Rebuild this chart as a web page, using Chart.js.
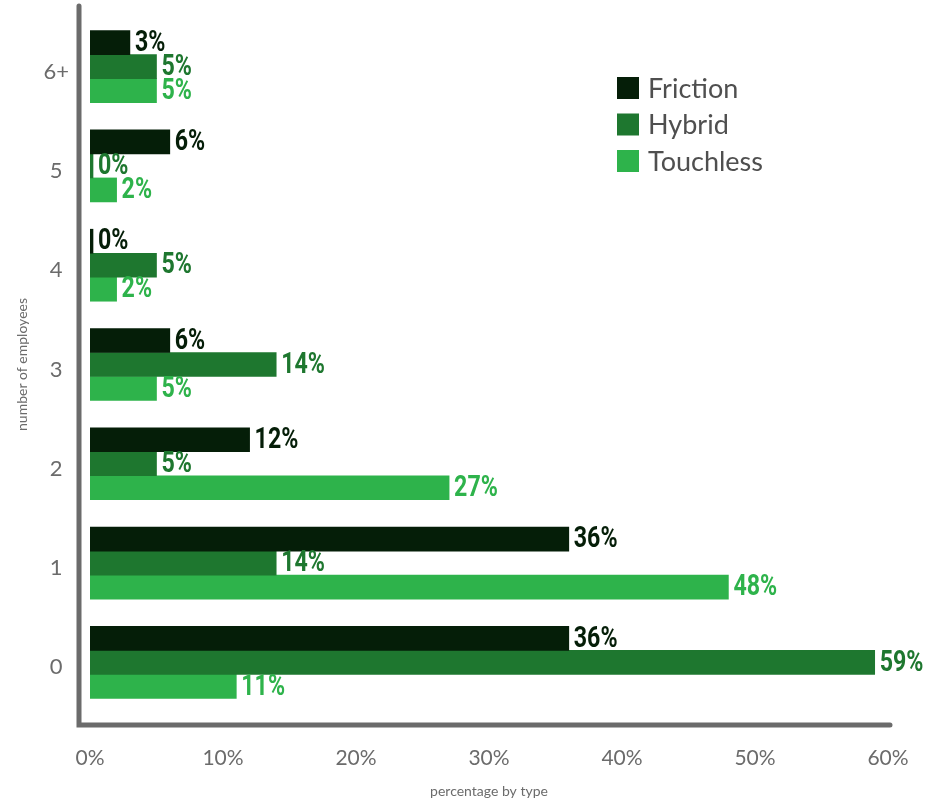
<!DOCTYPE html>
<html>
<head>
<meta charset="utf-8">
<script src="https://cdn.jsdelivr.net/npm/chart.js@4.4.0/dist/chart.umd.min.js"></script>
<style>
  html, body { margin: 0; padding: 0; background: #fff; }
  #wrap { width: 945px; height: 802px; position: relative; }
</style>
</head>
<body>
<div id="wrap"><canvas id="chart"></canvas></div>
<script>
// employee groups, top to bottom
const groups = ['6+', '5', '4', '3', '2', '1', '0'];
const seriesNames = ['Friction', 'Hybrid', 'Touchless'];
const friction = [3, 6, 0, 6, 12, 36, 36];
const hybrid = [5, 0, 5, 14, 5, 14, 59];
const touchless = [5, 2, 2, 5, 27, 48, 11];
const seriesColors = ['#051e08', '#1e772f', '#2eb34b'];
const xMax = 60;
const xStep = 10;

const axisGray = '#6b6b6b';

// value labels at the end of every bar, in the bar's colour,
// squeezed horizontally to get a condensed look
const barValues = {
  id: 'barValues',
  afterDatasetsDraw(chart) {
    const ctx = chart.ctx;
    chart.data.datasets.forEach((ds, i) => {
      const meta = chart.getDatasetMeta(i);
      meta.data.forEach((bar, j) => {
        ctx.save();
        ctx.translate(bar.x + 5, bar.y + 1);
        ctx.scale(0.8, 1);
        ctx.font = 'bold 29px Roboto, sans-serif';
        ctx.textAlign = 'left';
        ctx.textBaseline = 'middle';
        ctx.fillStyle = ds.backgroundColor;
        ctx.fillText(ds.data[j] + '%', 0, 0);
        ctx.restore();
      });
    });
  }
};

// thick grey axis lines with rounded ends
const axisLines = {
  id: 'axisLines',
  afterDraw(chart) {
    const { ctx, chartArea } = chart;
    const x0 = chartArea.left - 11;
    const y0 = chartArea.bottom + 13;
    ctx.save();
    ctx.strokeStyle = axisGray;
    ctx.lineWidth = 5;
    ctx.lineCap = 'round';
    ctx.beginPath();
    ctx.moveTo(x0, 6);
    ctx.lineTo(x0, y0);
    ctx.lineTo(chartArea.right + 2, y0);
    ctx.stroke();
    ctx.restore();
  }
};

// legend block in the upper right of the plot
const boxLegend = {
  id: 'boxLegend',
  afterDraw(chart) {
    const ctx = chart.ctx;
    ctx.save();
    ctx.font = '27px Lato, sans-serif';
    ctx.textBaseline = 'middle';
    ctx.textAlign = 'left';
    chart.data.datasets.forEach((ds, i) => {
      const y = 88 + i * 36.5;
      ctx.fillStyle = ds.backgroundColor;
      ctx.fillRect(617, y - 11, 22, 22);
      ctx.fillStyle = '#4f4f4f';
      ctx.fillText(ds.label, 648, y + 1);
    });
    ctx.restore();
  }
};

new Chart(document.getElementById('chart'), {
  type: 'bar',
  data: {
    labels: groups,
    datasets: [friction, hybrid, touchless].map((values, i) => ({
      label: seriesNames[i],
      data: values,
      backgroundColor: seriesColors[i],
      barThickness: 24,
      minBarLength: 3
    }))
  },
  options: {
    indexAxis: 'y',
    responsive: true,
    maintainAspectRatio: false,
    animation: false,
    layout: { padding: { top: 17, right: 57, bottom: 0, left: 0 } },
    plugins: {
      legend: { display: false },
      tooltip: { enabled: false }
    },
    scales: {
      x: {
        min: 0,
        max: xMax,
        grid: { display: false },
        border: { display: false },
        afterFit(scale) { scale.height = 90; },
        ticks: {
          stepSize: xStep,
          padding: 26,
          color: axisGray,
          font: { family: 'Lato, sans-serif', size: 21 },
          callback: v => v + '%'
        },
        title: {
          display: true,
          text: 'percentage by type',
          color: axisGray,
          font: { family: 'Lato, sans-serif', size: 14 },
          padding: { top: 0, bottom: 2 }
        }
      },
      y: {
        grid: { display: false },
        border: { display: false },
        afterFit(scale) {
          scale.width = 90;
          scale.paddingTop = 0;
          scale.paddingBottom = 0;
        },
        ticks: {
          padding: 13,
          crossAlign: 'center',
          labelOffset: 5,
          color: axisGray,
          font: { family: 'Lato, sans-serif', size: 22 }
        },
        title: {
          display: true,
          text: 'number of employees',
          color: axisGray,
          font: { family: 'Lato, sans-serif', size: 14 },
          padding: { top: 14, bottom: 0 }
        }
      }
    }
  },
  plugins: [barValues, axisLines, boxLegend]
});
</script>
</body>
</html>
